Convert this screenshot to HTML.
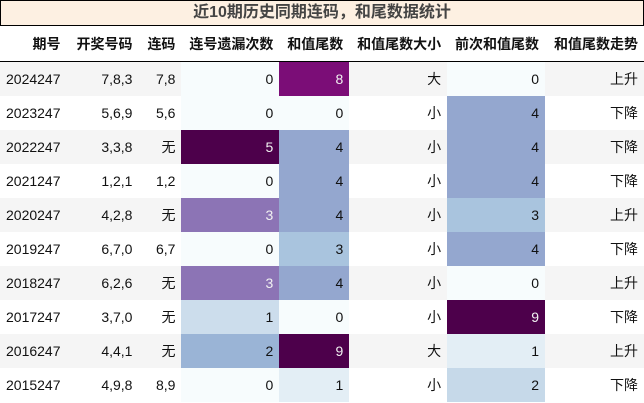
<!DOCTYPE html>
<html><head><meta charset="utf-8"><style>
body{margin:0;width:644px;height:403px;overflow:hidden;background:#fff;font-family:"Liberation Sans","Noto Sans CJK SC",sans-serif;}
.title{position:absolute;left:0;top:0;width:642px;height:24px;border:1px solid #000;background:#fdf0e2;color:#444;font-weight:bold;font-size:16px;line-height:24px;text-align:center;}
table{position:absolute;left:0;top:26px;border-collapse:collapse;font-size:14px;color:#111;}
th{height:35px;font-weight:bold;text-align:right;padding:0 6px 0 0;border-bottom:1px solid #000;}
td{height:34px;padding:0 6px 0 0;text-align:right;}
td.l{text-align:left;padding-left:6px;}
tr.o td{background:#f5f5f5;}
</style></head><body>
<div class="title">近10期历史同期连码，和尾数据统计</div>
<table>
<colgroup><col style="width:66px"><col style="width:72px"><col style="width:43px"><col style="width:98px"><col style="width:70px"><col style="width:98px"><col style="width:98px"><col style="width:99px"></colgroup>
<thead><tr>
<th>期号</th><th>开奖号码</th><th>连码</th><th>连号遗漏次数</th><th>和值尾数</th><th>和值尾数大小</th><th>前次和值尾数</th><th>和值尾数走势</th>
</tr></thead>
<tbody id="tb"></tbody></table>
<script>
const periods=["2024247","2023247","2022247","2021247","2020247","2019247","2018247","2017247","2016247","2015247"];
const numbers=["7,8,3","5,6,9","3,3,8","1,2,1","4,2,8","6,7,0","6,2,6","3,7,0","4,4,1","4,9,8"];
const consec=["7,8","5,6","无","1,2","无","6,7","无","无","无","8,9"];
const miss=[0,0,5,0,3,0,3,1,2,0];
const tail=[8,0,4,4,4,3,4,0,9,1];
const size=["大","小","小","小","小","小","小","小","大","小"];
const prev=[0,4,4,4,3,4,0,9,1,2];
const trend=["上升","下降","下降","下降","上升","下降","上升","下降","上升","下降"];
const stops=[[247,252,253],[224,236,244],[191,211,230],[158,188,218],[140,150,198],[140,107,177],[136,65,157],[129,15,124],[77,0,75]];
function cmap(t){t=Math.max(0,Math.min(1,t))*(stops.length-1);const i=Math.min(stops.length-2,Math.floor(t)),f=t-i;const c=stops[i].map((v,k)=>Math.round(v+(stops[i+1][k]-v)*f));return c;}
function cell(tr,v,max,name){const td=document.createElement('td');td.textContent=v;const c=cmap(v/max);td.style.background='rgb('+c+')';const lum=0.299*c[0]+0.587*c[1]+0.114*c[2];td.style.color=lum<160?'#f1f1f1':'#111';


tr.appendChild(td);}
function plain(tr,v,name,cls){const td=document.createElement('td');td.textContent=v;if(cls)td.className=cls;


tr.appendChild(td);}
const tb=document.getElementById('tb');
const mMax=Math.max(...miss),tMax=Math.max(...tail),pMax=Math.max(...prev);
periods.forEach((p,i)=>{const tr=document.createElement('tr');if(i%2==0)tr.className='o';


plain(tr,p,'period-cell','l');plain(tr,numbers[i],'numbers-cell');plain(tr,consec[i],'consecutive-cell');
cell(tr,miss[i],mMax,'miss-cell');cell(tr,tail[i],tMax,'sum-tail-cell');plain(tr,size[i],'size-cell');cell(tr,prev[i],pMax,'prev-tail-cell');plain(tr,trend[i],'trend-cell');
tb.appendChild(tr);});
</script>
</body></html>
